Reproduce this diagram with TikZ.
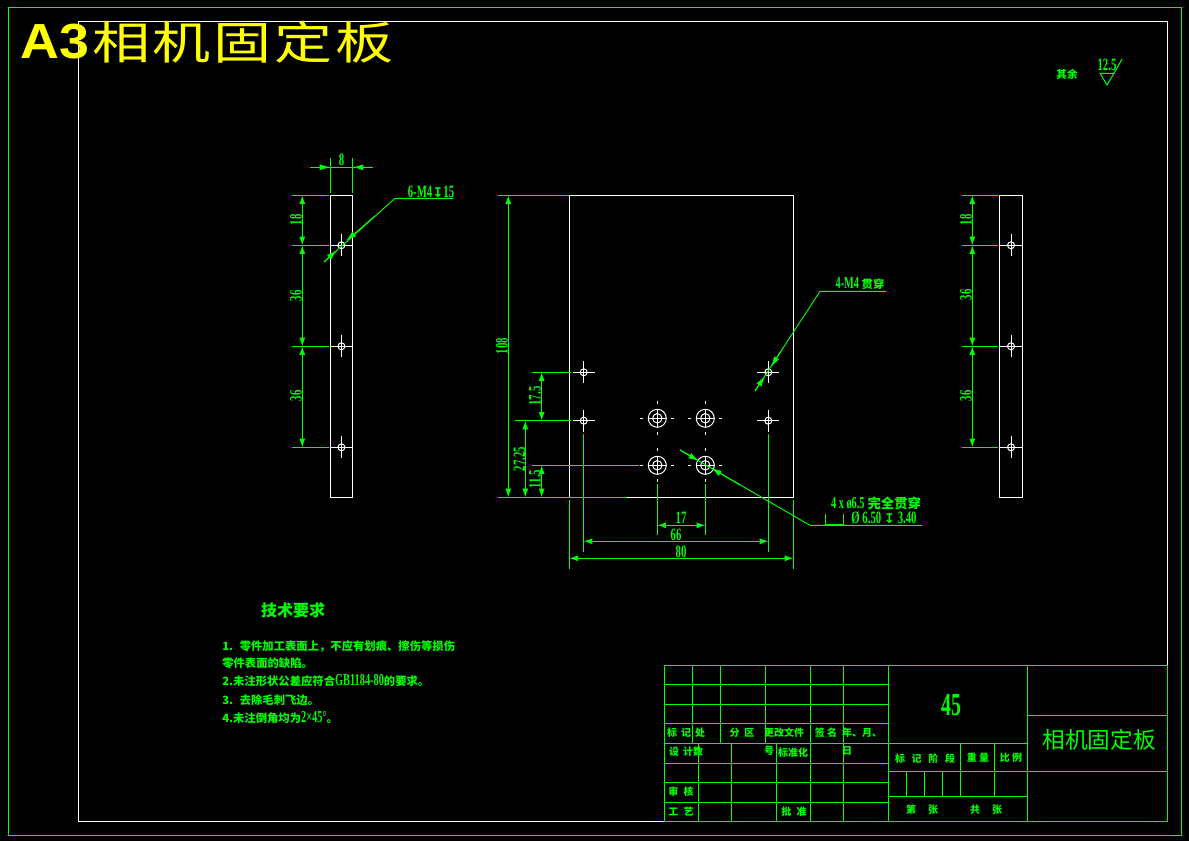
\documentclass[tikz,border=0pt]{standalone}
\usepackage{fontspec}
\usepackage{graphicx,xcolor}
\usepackage{tikz}
\usetikzlibrary{arrows.meta,positioning}
\setmainfont{Noto Sans CJK SC}
\newfontfamily\dimfont[FakeStretch=0.62]{Liberation Serif Bold}
\newfontfamily\symfont{DejaVu Sans}
\newfontfamily\bigfont[FakeStretch=1.09]{Liberation Sans Bold}
\newfontfamily\bigcjk[FakeStretch=1.28,LetterSpace=6]{Noto Sans CJK SC}
\definecolor{cadgreen}{RGB}{0,255,0}
\definecolor{cadyellow}{RGB}{255,255,0}
\newcommand{\depthsym}{{\symfont\bfseries\fontsize{10}{10}\selectfont ↧}}
\newcommand{\dimtext}[1]{{\dimfont\fontsize{12.5}{12.5}\selectfont #1}}
\newcommand{\smallhole}[3]{
	\draw[part] (#1, #2) circle (3.5);
	\draw[part] (#1-#3, #2) -- (#1+#3, #2);
	\draw[part] (#1, #2-11) -- (#1, #2+11);
}
\newcommand{\bighole}[2]{
	\draw[part] (#1, #2) circle (9);
	\draw[part] (#1, #2) circle (4.7);
	\draw[part] (#1-9, #2) -- (#1+9, #2);
	\draw[part] (#1, #2-9) -- (#1, #2+9);
	\draw[part] (#1-17, #2) -- (#1-14, #2);
	\draw[part] (#1+14, #2) -- (#1+17, #2);
	\draw[part] (#1, #2-17) -- (#1, #2-14);
	\draw[part] (#1, #2+14) -- (#1, #2+17);
}
\begin{document}
\begin{tikzpicture}[x=0.75pt, y=-0.75pt]
	\tikzstyle{part} = [draw = white, line width = 0.75pt]
	\tikzstyle{dim} = [draw = cadgreen, line width = 0.75pt]
	\tikzstyle{arr} = [dim, {Latex[length=6.5pt,width=4.5pt]}-{Latex[length=6.5pt,width=4.5pt]}]
	\tikzstyle{lead} = [dim, line width = 0.7pt]
	\tikzstyle{head} = [dim, -{Latex[length=8pt,width=4.5pt]}]
	\tikzstyle{num} = [text = cadgreen, inner sep = 0pt, font = \dimfont\fontsize{13}{13}\selectfont]
	\tikzstyle{numup} = [num, rotate = 90]
	\tikzstyle{cell} = [text = cadgreen, inner sep = 0pt, font = \bfseries\fontsize{7.5}{8}\selectfont]
	\tikzstyle{note} = [cell, anchor = west, font = \bfseries\fontsize{8.5}{8}\selectfont]
	\fill[black] (0,0) rectangle (1189,841);
	\useasboundingbox (0,0) rectangle (1189,841);
	% frames
	\draw[dim] (8.3,7.3) rectangle (1181,835.3);
	\draw[part] (78.3,21.3) rectangle (1167.3,821.7);
	% side view, left
	\draw[part] (330.3,195.3) rectangle (352.6,497.3);
	\foreach \y in {245.3,346.3,447.3} {
		\smallhole{341.4}{\y}{11.2}
	}
	\draw[dim] (330.3,158) -- (330.3,193);
	\draw[dim] (352.6,158) -- (352.6,193);
	\draw[dim] (310,167.3) -- (373,167.3);
	\draw[head] (319,167.3) -- (330.3,167.3);
	\draw[head] (364,167.3) -- (352.6,167.3);
	\node[num] (topeight) at (341.5,160) {8};
	\foreach \y in {195.3,245.3,346.3,447.3} {
		\draw[dim] (292,\y) -- (329,\y);
	}
	\draw[arr] (302.3,195.3) -- (302.3,245.3);
	\draw[arr] (302.3,245.3) -- (302.3,346.3);
	\draw[arr] (302.3,346.3) -- (302.3,447.3);
	\node[numup] (leftone) at (296,220) {18};
	\node[numup] (lefttwo) at (296,296) {36};
	\node[numup] (leftthree) at (296,396) {36};
	\draw[lead] (324,262) -- (395,198.3) -- (453,198.3);
	\draw[head] (375,216) -- (346,241);
	\draw[head] (324,262) -- (337,250);
	\node[num] (leftnote) at (431,192) {6-M4\depthsym 15};
	% main view
	\draw[part] (569.4,195.3) rectangle (793.3,497.3);
	\smallhole{583.7}{372.3}{11}
	\smallhole{583.7}{420.7}{11}
	\smallhole{768.3}{372.3}{11}
	\smallhole{768.3}{420.7}{11}
	\bighole{657.3}{418.3}
	\bighole{705.3}{418.3}
	\bighole{657.3}{465.3}
	\bighole{705.3}{465.3}
	\draw[dim] (498,195.3) -- (569,195.3);
	\draw[dim] (498,497.3) -- (627,497.3);
	\draw[arr] (508.3,195.3) -- (508.3,497.3);
	\node[numup] (hmain) at (502,346) {108};
	\draw[dim] (532,372.3) -- (571,372.3);
	\draw[dim] (515,420.7) -- (571,420.7);
	\draw[dim] (532,465.3) -- (639,465.3);
	\draw[arr] (541.7,372.3) -- (541.7,420.7);
	\draw[arr] (525.3,420.7) -- (525.3,497.3);
	\draw[arr] (541.7,465.3) -- (541.7,497.3);
	\node[numup] (hone) at (535,396) {17.5};
	\node[numup] (htwo) at (519.5,459) {27.25};
	\node[numup] (hthree) at (535,479) {11.5};
	\draw[dim] (657.3,484) -- (657.3,535);
	\draw[dim] (705.3,484) -- (705.3,535);
	\draw[dim] (583.7,434) -- (583.7,552);
	\draw[dim] (768.3,434) -- (768.3,552);
	\draw[dim] (569.4,500) -- (569.4,569);
	\draw[dim] (793.3,500) -- (793.3,569);
	\draw[arr] (657.3,525.3) -- (705.3,525.3);
	\draw[arr] (583.7,541.3) -- (768.3,541.3);
	\draw[arr] (569.4,558.3) -- (793.3,558.3);
	\node[num] (wone) at (681,518) {17};
	\node[num] (wtwo) at (676,535) {66};
	\node[num] (wthree) at (681,552) {80};
	\draw[lead] (755,391) -- (820,291.3) -- (886,291.3);
	\draw[head] (781,351) -- (771,367);
	\draw[head] (755,391) -- (765,376);
	\node[cell, font = \bfseries\fontsize{8.5}{9}\selectfont] (rightnote) at (860,284) {\dimtext{4-M4} 贯穿};
	\draw[lead] (680,450) -- (810,525.3) -- (922,525.3);
	\draw[head] (740,485) -- (711,468);
	\draw[head] (680,450) -- (699,461);
	\node[cell, font = \bfseries\fontsize{10}{10}\selectfont] (holenote) at (876,503) {\dimtext{4 x ø6.5} 完全贯穿};
	\draw[dim] (825,514) -- (825,524.3) -- (843,524.3) -- (843,514);
	\node[num] (holedepth) at (884,518) {Ø 6.50 \depthsym\ 3.40};
	% side view, right
	\draw[part] (999.3,195.3) rectangle (1022.6,497.3);
	\foreach \y in {245.3,346.3,447.3} {
		\smallhole{1011}{\y}{11.6}
		\draw[dim] (962,\y) -- (998,\y);
	}
	\draw[dim] (962,195.3) -- (998,195.3);
	\draw[arr] (972.3,195.3) -- (972.3,245.3);
	\draw[arr] (972.3,245.3) -- (972.3,346.3);
	\draw[arr] (972.3,346.3) -- (972.3,447.3);
	\node[numup] (rightone) at (966,220) {18};
	\node[numup] (righttwo) at (966,295) {36};
	\node[numup] (rightthree) at (966,396) {36};
	% roughness
	\node[cell, font = \bfseries\fontsize{8}{8}\selectfont] (restnote) at (1067,74) {其余};
	\node[num] (roughval) at (1107,65) {12.5};
	\draw[dim] (1100,73.3) -- (1114,73.3) -- (1107,85) -- cycle;
	\draw[dim] (1114,73.3) -- (1122,59);
	% notes
	\node[cell, font = \bfseries\fontsize{12}{12}\selectfont] (techhead) at (293,610) {技术要求};
	\node[note] (tech1) at (222,646) {1.\hspace{5pt}零件加工表面上，不应有划痕、擦伤等损伤};
	\node[note] (tech2) at (222,663) {零件表面的缺陷。};
	\node[note] (tech3) at (222,681) {2.未注形状公差应符合\dimtext{GB1184-80}的要求。};
	\node[note] (tech4) at (222,700) {3.\hspace{5pt}去除毛刺飞边。};
	\node[note] (tech5) at (222,718) {4.未注倒角均为\dimtext{2×45°}。};
	% title block, left part
	\draw[dim] (664.3,665.3) rectangle (1167.3,821.7);
	\foreach \y in {684.3,704.3,723.3,743.3,763.3,782.3,802.3} {
		\draw[dim] (664.3,\y) -- (888,\y);
	}
	\foreach \x in {692.3,720.3,765.3,810.3,843.3} {
		\draw[dim] (\x,665.3) -- (\x,743.3);
	}
	\foreach \x in {698.3,731.3,776.3,810.3,843.3} {
		\draw[dim] (\x,743.3) -- (\x,821.7);
	}
	\draw[dim] (888.3,665.3) -- (888.3,821.7);
	\draw[dim] (1027.3,665.3) -- (1027.3,821.7);
	% title block, right part
	\draw[dim] (888.3,743.3) -- (1027.3,743.3);
	\draw[dim] (888.3,771.3) -- (1167.3,771.3);
	\draw[dim] (888.3,796.3) -- (1027.3,796.3);
	\draw[dim] (1027.3,715.3) -- (1167.3,715.3);
	\draw[dim] (960.3,743.3) -- (960.3,796.3);
	\draw[dim] (994.3,743.3) -- (994.3,796.3);
	\draw[dim] (906.3,771.3) -- (906.3,796.3);
	\draw[dim] (924.3,771.3) -- (924.3,796.3);
	\draw[dim] (942.3,771.3) -- (942.3,796.3);
	\node[cell] (c1) at (686,733) {标\hspace{3pt}记\hspace{3pt}处};
	\node[cell] (c2) at (742,733) {分\hspace{3.5pt}区};
	\node[cell] (c3) at (784,733) {更改文件};
	\node[cell] (c4) at (826,733) {签 名};
	\node[cell] (c5) at (862,733) {年、月、};
	\node[cell] (c6) at (686,752) {设\hspace{3pt}计数};
	\node[cell] (c7) at (769,751) {号};
	\node[cell] (c8) at (793,753) {标准化};
	\node[cell] (c9) at (847,751) {日};
	\node[cell] (c10) at (681,792) {审\hspace{4pt}核};
	\node[cell] (c11) at (681,812) {工\hspace{4pt}艺};
	\node[cell] (c12) at (794,812) {批\hspace{4pt}准};
	\node[cell] (c13) at (925,759) {标\hspace{5pt}记\hspace{5pt}阶\hspace{5pt}段};
	\node[cell] (c14) at (978,758) {重 量};
	\node[cell] (c15) at (1011,758) {比 例};
	\node[cell] (c16) at (922,810) {第\hspace{9pt}张};
	\node[cell] (c17) at (986,810) {共\hspace{9pt}张};
	\node[num, font = \dimfont\fontsize{24}{24}\selectfont] (material) at (951,705) {45};
	\node[cell, font = \fontsize{17}{17}\selectfont] (partname) at (1099,740) {相机固定板};
	% banner
	\node[inner sep = 0pt, anchor = west, text = cadyellow, font = \bigfont\fontsize{37}{37}\selectfont] (bannera) at (20,42) {A3};
	\node[inner sep = 0pt, anchor = west, text = cadyellow, font = \bigcjk\fontsize{34}{34}\selectfont] (bannerb) at (92,42) {相机固定板};
\end{tikzpicture}
\end{document}
